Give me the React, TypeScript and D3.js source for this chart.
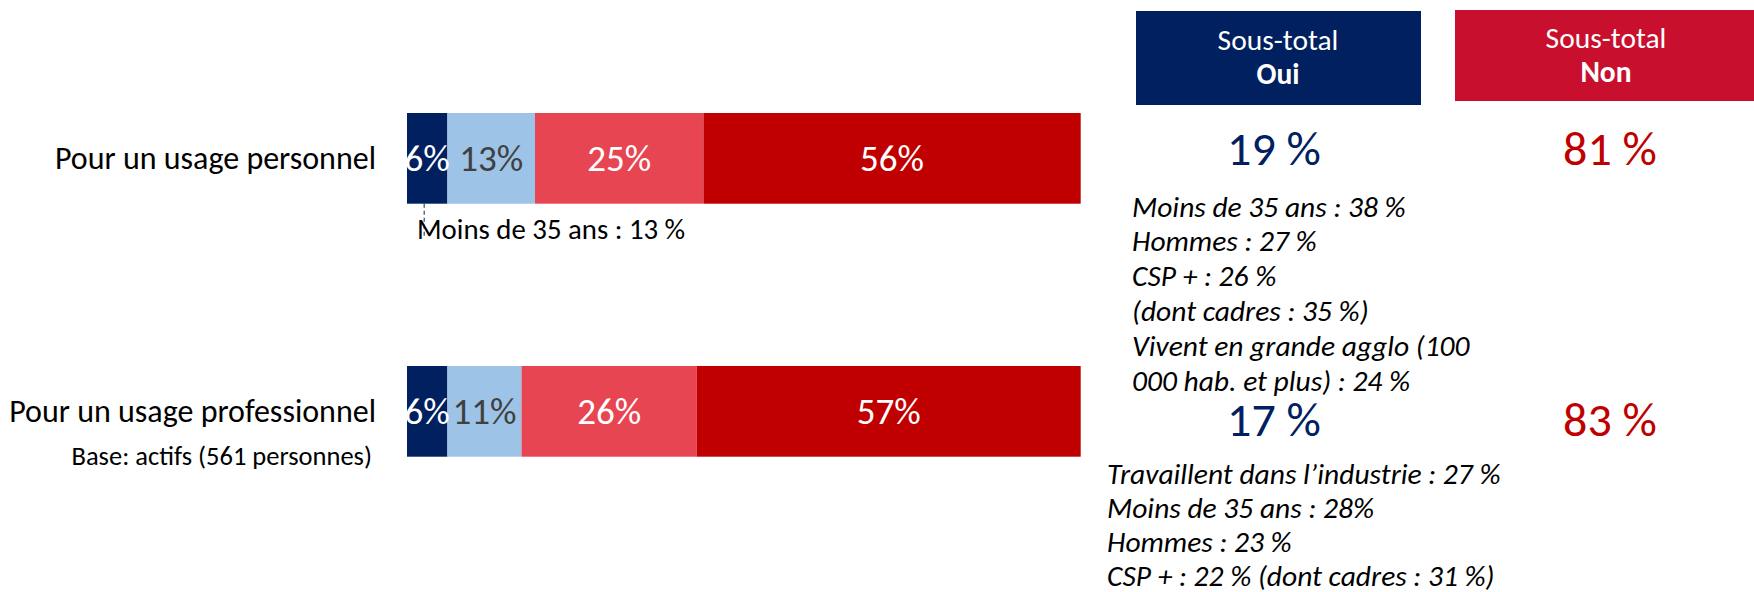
import React from "react";
import * as d3 from "d3";

const categories = ["Pour un usage personnel", "Pour un usage professionnel"];
const seriesKeys = ["ouiTout", "ouiPlutot", "nonPlutot", "nonPasDuTout"];
const ouiTout = [6, 6];
const ouiPlutot = [13, 11];
const nonPlutot = [25, 26];
const nonPasDuTout = [56, 57];
const sousTotalOui = [19, 17];
const sousTotalNon = [81, 83];
const headerOui = ["Sous-total", "Oui"];
const headerNon = ["Sous-total", "Non"];
const notePersoBar = "Moins de 35 ans : 13 %";
const notesPerso = [
  "Moins de 35 ans : 38 %",
  "Hommes : 27 %",
  "CSP + : 26 %",
  "(dont cadres : 35 %)",
  "Vivent en grande agglo (100",
  "000 hab. et plus) : 24 %",
];
const notesPro = [
  "Travaillent dans l\u2019industrie : 27 %",
  "Moins de 35 ans : 28%",
  "Hommes : 23 %",
  "CSP + : 22 % (dont cadres : 31 %)",
];
const baseNote = "Base: actifs (561 personnes)";

const W = 1754;
const H = 592;
const FONT = "Carlito, Calibri, Lato, sans-serif";

const colors: Record<string, string> = {
  ouiTout: "#002060",
  ouiPlutot: "#9DC3E6",
  nonPlutot: "#E84553",
  nonPasDuTout: "#C00000",
};
const labelColors: Record<string, string> = {
  ouiTout: "#ffffff",
  ouiPlutot: "#404040",
  nonPlutot: "#ffffff",
  nonPasDuTout: "#ffffff",
};

export default function App() {
  const rows = categories.map((c, i) => ({
    cat: c,
    ouiTout: ouiTout[i],
    ouiPlutot: ouiPlutot[i],
    nonPlutot: nonPlutot[i],
    nonPasDuTout: nonPasDuTout[i],
  }));
  const stacked = d3.stack<any>().keys(seriesKeys)(rows);

  const x = d3.scaleLinear().domain([0, 100]).range([407, 1080.7]);
  const y = d3
    .scaleBand()
    .domain(categories)
    .range([113, 456.7])
    .paddingInner(0.6415)
    .paddingOuter(0);
  const bw = y.bandwidth();

  // subtotal columns (the text blocks don't sit exactly on the bar centres)
  const colOui = 1278;
  const colNon = 1606;
  const stOuiX = 1274;
  const stNonX = 1610;
  const stBaseline = [165, 436];

  return (
    <svg
      width={W}
      height={H}
      style={{ position: "absolute", left: 0, top: 0, background: "#fff" }}
      fontFamily={FONT}
    >
      <defs>
        <clipPath id="barclip">
          <rect x={x(0)} y={0} width={x(100) - x(0)} height={H} />
        </clipPath>
      </defs>

      {/* bars */}
      {stacked.map((s) => (
        <g key={s.key}>
          {s.map((d, i) => (
            <rect
              key={i}
              x={x(d[0])}
              y={y(categories[i])}
              width={x(d[1]) - x(d[0])}
              height={bw}
              fill={colors[s.key]}
            />
          ))}
        </g>
      ))}
      <g clipPath="url(#barclip)">
        {stacked.map((s) => (
          <g key={s.key + "-lbl"}>
            {s.map((d, i) => (
              <text
                key={i}
                x={(x(d[0]) + x(d[1])) / 2}
                y={(y(categories[i]) as number) + bw / 2 + 13}
                textAnchor="middle"
                fontSize={37}
                fill={labelColors[s.key]}
              >
                {`${d[1] - d[0]}%`}
              </text>
            ))}
          </g>
        ))}
      </g>

      {/* category labels */}
      {categories.map((c, i) => (
        <text
          key={c}
          x={376}
          y={(y(c) as number) + bw / 2 + 11}
          textAnchor="end"
          fontSize={32}
          fill="#000"
        >
          {c}
        </text>
      ))}
      <text x={372} y={465} textAnchor="end" fontSize={26.5} fill="#000">
        {baseNote}
      </text>

      {/* note under first bar */}
      <line
        x1={x(ouiTout[0] / 2) - 3}
        x2={x(ouiTout[0] / 2) - 3}
        y1={(y(categories[0]) as number) + bw}
        y2={236}
        stroke="#44546A"
        strokeWidth={1.3}
        strokeDasharray="4,3"
      />
      <text x={417} y={239} fontSize={28.8} fill="#000">
        {notePersoBar}
      </text>

      {/* header boxes */}
      <rect x={1136} y={11} width={285} height={94} fill="#002060" />
      <rect x={1455} y={10} width={299} height={91} fill="#C8102E" />
      <text x={colOui} y={50} textAnchor="middle" fontSize={29.5} fill="#fff">
        {headerOui[0]}
      </text>
      <text x={colOui} y={84} textAnchor="middle" fontSize={29.5} fontWeight="bold" fill="#fff">
        {headerOui[1]}
      </text>
      <text x={colNon} y={48} textAnchor="middle" fontSize={29.5} fill="#fff">
        {headerNon[0]}
      </text>
      <text x={colNon} y={82} textAnchor="middle" fontSize={29.5} fontWeight="bold" fill="#fff">
        {headerNon[1]}
      </text>

      {/* subtotals */}
      {categories.map((c, i) => (
        <g key={c + "-st"}>
          <text x={stOuiX} y={stBaseline[i]} textAnchor="middle" fontSize={48} fill="#002060">
            {`${sousTotalOui[i]} %`}
          </text>
          <text x={stNonX} y={stBaseline[i]} textAnchor="middle" fontSize={48} fill="#C00000">
            {`${sousTotalNon[i]} %`}
          </text>
        </g>
      ))}

      {/* profile notes */}
      <text fontSize={29.5} fontStyle="italic" fill="#000">
        {notesPerso.map((t, i) => (
          <tspan key={i} x={1132} y={216.5 + i * 34.8}>
            {t}
          </tspan>
        ))}
      </text>
      <text fontSize={29.5} fontStyle="italic" fill="#000">
        {notesPro.map((t, i) => (
          <tspan key={i} x={1107} y={484 + i * 34}>
            {t}
          </tspan>
        ))}
      </text>
    </svg>
  );
}
